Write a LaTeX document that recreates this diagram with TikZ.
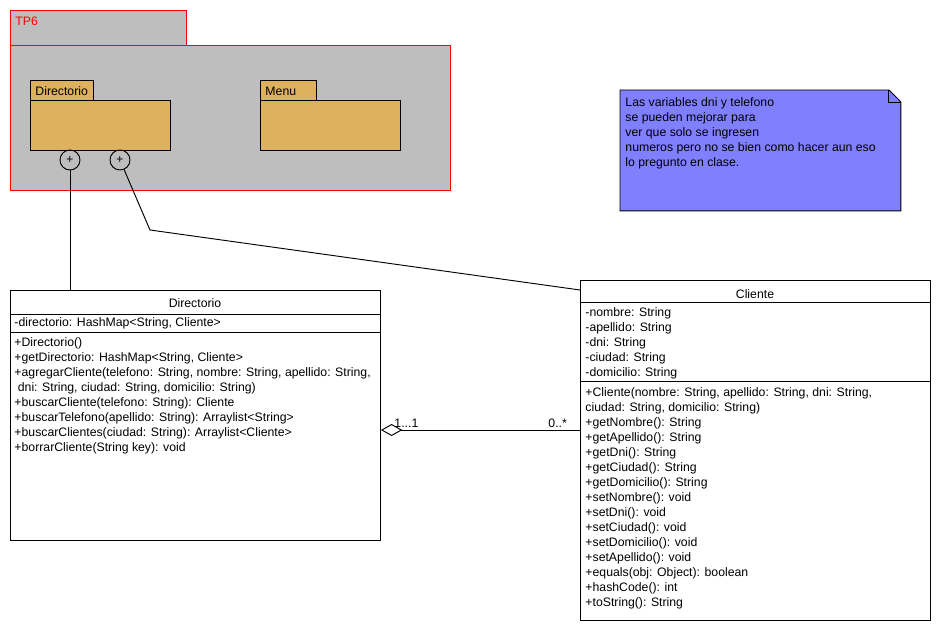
\documentclass[tikz,border=0pt]{standalone}
\usepackage{fontspec}
\setmainfont{Liberation Sans}
\usetikzlibrary{arrows.meta,positioning,calc}

\definecolor{pkggray}{RGB}{190,190,190}
\definecolor{pkgorange}{RGB}{222,177,96}
\definecolor{notecol}{RGB}{128,128,255}

\tikzset{
  pkgframe/.style={draw=red, fill=pkggray, inner sep=0, anchor=north west},
  pkgpart/.style={draw, fill=pkgorange, inner sep=0, anchor=north west},
  umlbox/.style={draw, fill=white, inner sep=0, anchor=north west},
  member/.style={anchor=west, inner sep=0, yshift=-1pt},
  plusdot/.style={circle, draw, minimum size=15pt, inner sep=0, font=\fontsize{9}{9}\selectfont},
  aggr/.style={{Diamond[open,length=16pt,width=9pt]}-}
}

\begin{document}
\begin{tikzpicture}[x=0.75pt, y=-0.75pt, line width=0.7pt, font=\fontsize{9.2}{11.25}\selectfont]
    \useasboundingbox (0,0) rectangle (940,630);

    % package TP6
    \node[pkgframe, minimum width=0.75*176pt, minimum height=0.75*36pt] (tptab) at (10,10) {};
    \node[pkgframe, minimum width=0.75*440pt, minimum height=0.75*145pt] (tpbody) at (10,45) {};
    \node[member, red] (tplabel) at (15,20) {TP6};

    % package Directorio
    \node[pkgpart, minimum width=0.75*63pt, minimum height=0.75*21pt] (dirtab) at (30,80) {};
    \node[pkgpart, minimum width=0.75*140pt, minimum height=0.75*50pt] (dirpkg) at (30,100) {};
    \node[member] (dirlabel) at (35,90) {Directorio};

    % package Menu
    \node[pkgpart, minimum width=0.75*56pt, minimum height=0.75*21pt] (menutab) at (260,80) {};
    \node[pkgpart, minimum width=0.75*140pt, minimum height=0.75*50pt] (menupkg) at (260,100) {};
    \node[member] (menulabel) at (265,90) {Menu};

    % imports
    \node[plusdot] (imp1) at (70,160) {+};
    \node[plusdot] (imp2) at (120,160) {+};

    % note
    \node[minimum width=0.75*280pt, minimum height=0.75*120pt, inner sep=0, anchor=north west] (note) at (620,90) {};
    \fill[notecol] (note.north west) -- ([xshift=-9pt]note.north east) -- ([yshift=-9pt]note.north east)
        -- (note.south east) -- (note.south west) -- cycle;
    \draw (note.north west) -- ([xshift=-9pt]note.north east) -- ([yshift=-9pt]note.north east)
        -- (note.south east) -- (note.south west) -- cycle;
    \draw ([xshift=-9pt]note.north east) -- ([xshift=-9pt,yshift=-9pt]note.north east) -- ([yshift=-9pt]note.north east);
    \node[anchor=north west, inner sep=0, align=left] (notetext) at (625,97) {Las variables dni y telefono\\
        se pueden mejorar para\\ ver que solo se ingresen\\
        numeros pero no se bien como hacer aun eso\\ lo pregunto en clase.};

    % class Directorio
    \node[umlbox, minimum width=0.75*370pt, minimum height=0.75*250pt] (dirclass) at (10,290) {};
    \node[yshift=-1pt] (dirname) at (195,302) {Directorio};
    \draw (10,314) -- (380,314);
    \node[member] (dirattr) at (14,322) {-directorio: HashMap<String, Cliente>};
    \draw (10,332) -- (380,332);
    \foreach \m [count=\i from 0] in {{+Directorio()},
        {+getDirectorio: HashMap<String, Cliente>},
        {+agregarCliente(telefono: String, nombre: String, apellido: String,},
        {\ dni: String, ciudad: String, domicilio: String)},
        {+buscarCliente(telefono: String): Cliente},
        {+buscarTelefono(apellido: String): Arraylist<String>},
        {+buscarClientes(ciudad: String): Arraylist<Cliente>},
        {+borrarCliente(String key): void}}
        \node[member] at (14,342+15*\i) {\m};

    % class Cliente
    \node[umlbox, minimum width=0.75*350pt, minimum height=0.75*340pt] (cliclass) at (580,280) {};
    \node[yshift=-1pt] (cliname) at (755,293) {Cliente};
    \draw (580,302) -- (930,302);
    \foreach \m [count=\i from 0] in {{-nombre: String}, {-apellido: String}, {-dni: String},
        {-ciudad: String}, {-domicilio: String}}
        \node[member] at (585,312+15*\i) {\m};
    \draw (580,381) -- (930,381);
    \foreach \m [count=\i from 0] in {{+Cliente(nombre: String, apellido: String, dni: String,},
        {ciudad: String, domicilio: String)}, {+getNombre(): String}, {+getApellido(): String},
        {+getDni(): String}, {+getCiudad(): String}, {+getDomicilio(): String},
        {+setNombre(): void}, {+setDni(): void}, {+setCiudad(): void}, {+setDomicilio(): void},
        {+setApellido(): void}, {+equals(obj: Object): boolean}, {+hashCode(): int},
        {+toString(): String}}
        \node[member] at (585,392+15*\i) {\m};

    % connectors
    \draw (imp1) -- (imp1 |- dirclass.north);
    \coordinate (bend) at (150,230);
    \draw (imp2) -- (bend) -- ([yshift=-7.5pt]cliclass.north west);

    \coordinate (assoc) at (480,430);
    \draw[aggr] (dirclass.east |- assoc) -- (cliclass.west |- assoc);
    \node[member] (multdir) at (394,422) {1...1};
    \node[member] (multcli) at (548,422) {0..*};
\end{tikzpicture}
\end{document}
